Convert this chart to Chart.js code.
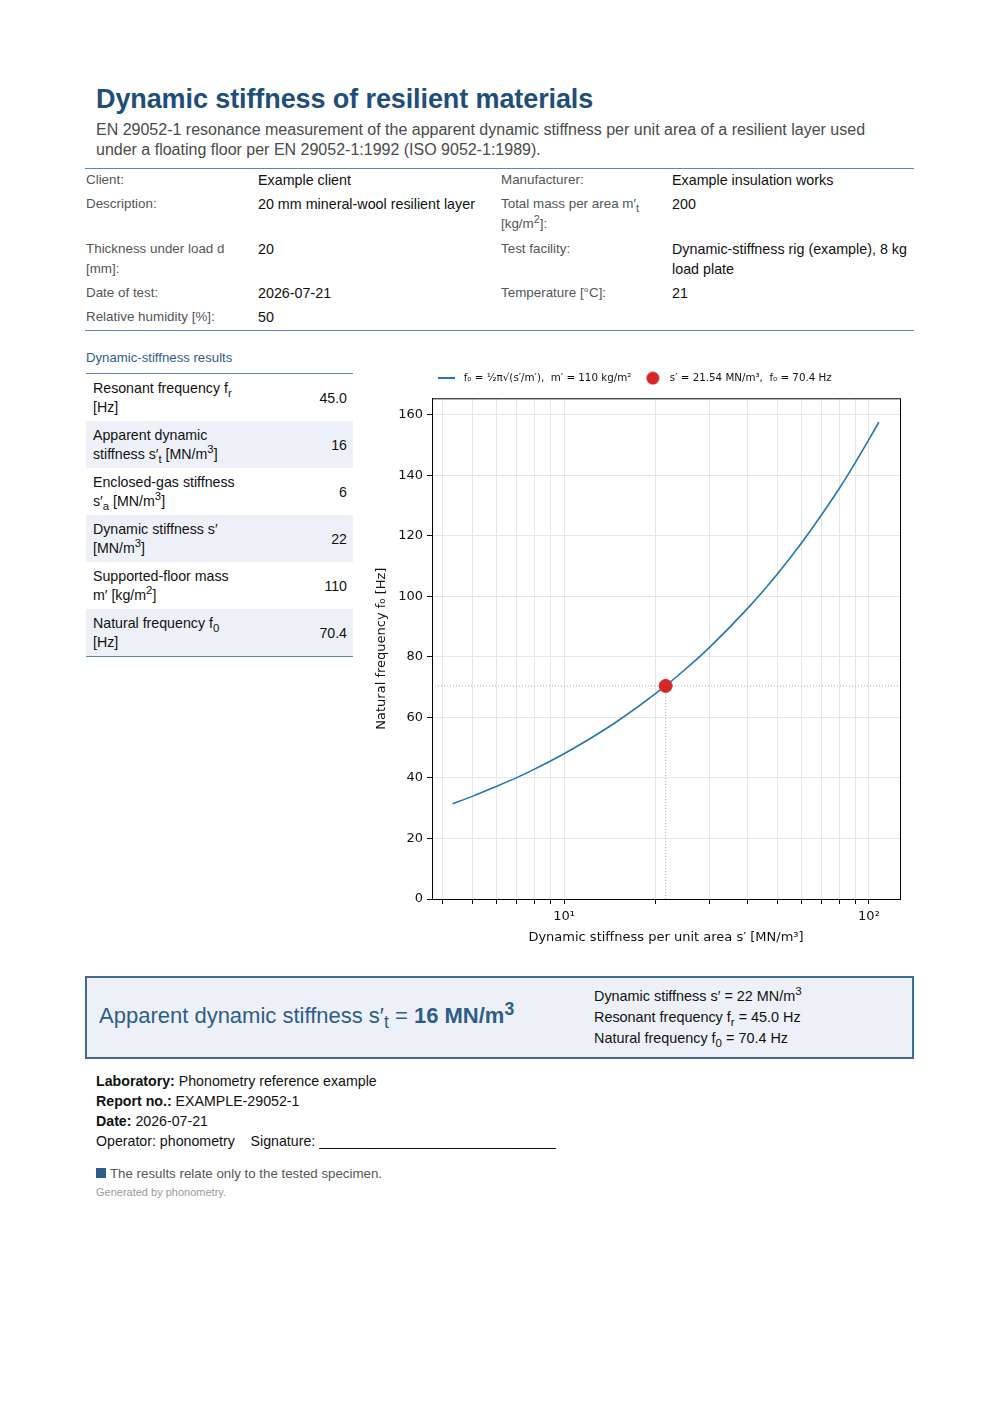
<!DOCTYPE html>
<html>
<head>
<meta charset="utf-8">
<title>Dynamic stiffness of resilient materials</title>
<script src="https://cdn.jsdelivr.net/npm/chart.js@4.4.1/dist/chart.umd.min.js"></script>
<style>
  html, body { margin: 0; padding: 0; background: #fff; }
  body { width: 1000px; height: 1415px; position: relative; font-family: "Liberation Sans", Arial, sans-serif; color: #111; }
  .abs { position: absolute; }
  h1 { position: absolute; left: 96px; top: 83px; margin: 0; font-size: 27px; line-height: 32px; color: #1f4e79; font-weight: bold; letter-spacing: -0.1px; }
  .sub { left: 96px; top: 120px; width: 800px; font-size: 16px; line-height: 20px; color: #4a4a4a; }
  table.info { position: absolute; left: 85px; top: 168px; width: 829px; border-collapse: collapse; table-layout: fixed;
    border-top: 1.5px solid #5f86ad; border-bottom: 1.5px solid #5f86ad; }
  table.info td { vertical-align: top; padding: 1px 0 3px 1px; line-height: 20.2px; }
  table.info td.l { font-size: 13.4px; color: #555; padding-right: 8px; }
  table.info td.v { font-size: 14.3px; color: #111; }
  .sec { left: 86px; top: 350px; font-size: 13.2px; color: #2e5d8a; }
  table.res { position: absolute; left: 86px; top: 373px; width: 267px; border-collapse: collapse; table-layout: fixed;
    border-top: 1.5px solid #5f86ad; border-bottom: 1.5px solid #5f86ad; font-size: 14.2px; }
  table.res td { height: 38px; padding: 5px 6px 4px 7px; line-height: 19px; vertical-align: middle; }
  table.res tr:nth-child(even) td { background: #edf1f7; }
  table.res td.n { text-align: right; }
  #wrap { position: absolute; left: 370px; top: 357px; width: 545px; height: 595px; }
  .box { left: 85px; top: 976px; width: 825px; height: 79px; border: 2px solid #3d6a96; background: #edf1f7; }
  .big { left: 12px; top: 25px; font-size: 22px; color: #2e5d8a; }
  .big b { font-weight: bold; }
  .side { left: 507px; top: 8px; font-size: 14.4px; line-height: 21px; color: #111; }
  .foot { left: 96px; top: 1071px; font-size: 14.2px; line-height: 20px; color: #111; }
  .note { left: 96px; top: 1166px; font-size: 13.3px; color: #555; }
  .note span { display: inline-block; width: 10px; height: 10px; background: #2e5d8a; margin-right: 4px; }
  .gen { left: 96px; top: 1186px; font-size: 11px; color: #999; }
  sub, sup { font-size: 80%; line-height: 0; }
</style>
</head>
<body>
<h1>Dynamic stiffness of resilient materials</h1>
<div class="abs sub">EN 29052-1 resonance measurement of the apparent dynamic stiffness per unit area of a resilient layer used under a floating floor per EN 29052-1:1992 (ISO 9052-1:1989).</div>

<table class="info">
  <colgroup><col style="width:172px"><col style="width:243px"><col style="width:171px"><col style="width:243px"></colgroup>
  <tr><td class="l">Client:</td><td class="v">Example client</td><td class="l">Manufacturer:</td><td class="v">Example insulation works</td></tr>
  <tr><td class="l">Description:</td><td class="v">20 mm mineral-wool resilient layer</td><td class="l">Total mass per area m′<sub>t</sub> [kg/m<sup>2</sup>]:</td><td class="v">200</td></tr>
  <tr><td class="l">Thickness under load d [mm]:</td><td class="v">20</td><td class="l">Test facility:</td><td class="v">Dynamic-stiffness rig (example), 8 kg load plate</td></tr>
  <tr><td class="l">Date of test:</td><td class="v">2026-07-21</td><td class="l">Temperature [°C]:</td><td class="v">21</td></tr>
  <tr><td class="l">Relative humidity [%]:</td><td class="v">50</td><td class="l"></td><td class="v"></td></tr>
</table>

<div class="abs sec">Dynamic-stiffness results</div>
<table class="res">
  <colgroup><col style="width:155px"><col></colgroup>
  <tr><td>Resonant frequency f<sub>r</sub> [Hz]</td><td class="n">45.0</td></tr>
  <tr><td>Apparent dynamic stiffness s′<sub>t</sub> [MN/m<sup>3</sup>]</td><td class="n">16</td></tr>
  <tr><td>Enclosed-gas stiffness s′<sub>a</sub> [MN/m<sup>3</sup>]</td><td class="n">6</td></tr>
  <tr><td>Dynamic stiffness s′ [MN/m<sup>3</sup>]</td><td class="n">22</td></tr>
  <tr><td>Supported-floor mass m′ [kg/m<sup>2</sup>]</td><td class="n">110</td></tr>
  <tr><td>Natural frequency f<sub>0</sub> [Hz]</td><td class="n">70.4</td></tr>
</table>

<div id="wrap"><canvas id="chart"></canvas></div>

<div class="abs box">
  <div class="abs big">Apparent dynamic stiffness s′<sub>t</sub> = <b>16 MN/m<sup>3</sup></b></div>
  <div class="abs side">Dynamic stiffness s′ = 22 MN/m<sup>3</sup><br>Resonant frequency f<sub>r</sub> = 45.0 Hz<br>Natural frequency f<sub>0</sub> = 70.4 Hz</div>
</div>

<div class="abs foot">
  <b>Laboratory:</b> Phonometry reference example<br>
  <b>Report no.:</b> EXAMPLE-29052-1<br>
  <b>Date:</b> 2026-07-21<br>
  Operator: phonometry &nbsp;&nbsp; Signature: ______________________________
</div>
<div class="abs note"><span></span>The results relate only to the tested specimen.</div>
<div class="abs gen">Generated by phonometry.</div>

<script>
// curve f0 vs s', m' = 110 kg/m2
const stiffness = [4.31, 5, 6, 7, 8, 10, 12, 15, 20, 25, 30, 40, 50, 60, 70, 80, 90, 100, 107.7];
const naturalFreq = [31.5, 33.9, 37.2, 40.1, 42.9, 48.0, 52.6, 58.8, 67.9, 75.9, 83.1, 96.0, 107.3, 117.5, 127.0, 135.7, 144.0, 151.8, 157.5];
const pointS = [21.54];
const pointF = [70.4];
const xTicks = [4, 5, 6, 7, 8, 9, 10, 20, 30, 40, 50, 60, 70, 80, 90, 100];
const xTickLabels = { 10: '10¹', 100: '10²' };
const yTicks = [0, 20, 40, 60, 80, 100, 120, 140, 160];

const blue = '#1f77b4';
const red = '#d62728';

// legend swatches
const lineSwatch = document.createElement('canvas');
lineSwatch.width = 17; lineSwatch.height = 2;
lineSwatch.getContext('2d').fillStyle = blue;
lineSwatch.getContext('2d').fillRect(0, 0, 17, 2);

const dotSwatch = document.createElement('canvas');
dotSwatch.width = 14; dotSwatch.height = 14;
(function () {
    const c = dotSwatch.getContext('2d');
    c.fillStyle = red;
    c.beginPath();
    c.arc(7, 7, 6.5, 0, Math.PI * 2);
    c.fill();
})();

// a bit more room under the legend without spreading the items apart
const legendGap = {
    id: 'legendGap',
    beforeLayout(chart) {
        const lg = chart.legend;
        if (lg && !lg._gapPatched) {
            const fit = lg.fit.bind(lg);
            lg.fit = function () { fit(); this.height += 5; };
            lg._gapPatched = true;
        }
    }
};

// frame on all four sides + dotted guides at the operating point
const framePlugin = {
    id: 'frame',
    beforeDatasetsDraw(chart) {
        const { ctx, chartArea: a, scales } = chart;
        const px = scales.x.getPixelForValue(pointS[0]);
        const py = scales.y.getPixelForValue(pointF[0]);
        ctx.save();
        ctx.strokeStyle = '#aaaaaa';
        ctx.lineWidth = 1;
        ctx.setLineDash([1, 2]);
        ctx.beginPath();
        ctx.moveTo(a.left, py); ctx.lineTo(a.right, py);
        ctx.moveTo(px, a.bottom); ctx.lineTo(px, py);
        ctx.stroke();
        ctx.restore();
    },
    afterDraw(chart) {
        const { ctx, chartArea: a } = chart;
        ctx.save();
        ctx.strokeStyle = '#000';
        ctx.lineWidth = 1;
        ctx.strokeRect(a.left + 0.5, a.top + 0.5, a.right - a.left, a.bottom - a.top);
        ctx.restore();
    }
};

const ctx = document.getElementById('chart').getContext('2d');
new Chart(ctx, {
    type: 'scatter',
    data: {
        datasets: [{
            label: ' f₀ = ¹⁄₂π√(s′/m′),  m′ = 110 kg/m²',
            data: stiffness.map((s, i) => ({ x: s, y: naturalFreq[i] })),
            showLine: true,
            borderColor: blue,
            backgroundColor: blue,
            borderWidth: 1.6,
            pointRadius: 0,
            cubicInterpolationMode: 'monotone',
            pointStyle: lineSwatch,
            order: 2
        }, {
            label: ' s′ = 21.54 MN/m³,  f₀ = 70.4 Hz',
            data: pointS.map((s, i) => ({ x: s, y: pointF[i] })),
            borderColor: red,
            backgroundColor: red,
            pointRadius: 6.5,
            pointStyle: 'circle',
            order: 1
        }]
    },
    options: {
        responsive: true,
        maintainAspectRatio: false,
        animation: false,
        layout: { padding: { right: 15, top: 3 } },
        plugins: {
            tooltip: { enabled: false },
            legend: {
                position: 'top',
                labels: {
                    usePointStyle: true,
                    pointStyleWidth: 17,
                    boxHeight: 9,
                    padding: 13,
                    color: '#111',
                    font: { family: 'DejaVu Sans', size: 10.3 },
                    sort: (a, b) => a.datasetIndex - b.datasetIndex,
                    generateLabels: chart => {
                        const items = Chart.defaults.plugins.legend.labels.generateLabels(chart);
                        items.forEach(it => { it.pointStyle = it.datasetIndex === 0 ? lineSwatch : dotSwatch; });
                        return items;
                    }
                }
            }
        },
        scales: {
            x: {
                type: 'logarithmic',
                min: 3.69,
                max: 126.4,
                afterBuildTicks: scale => { scale.ticks = xTicks.map(v => ({ value: v, major: v === 10 || v === 100 })); },
                afterFit: scale => { scale.height = 53; },
                ticks: {
                    autoSkip: false,
                    maxRotation: 0,
                    color: '#111',
                    padding: 5,
                    font: { family: 'DejaVu Sans', size: 13 },
                    callback: v => xTickLabels[v] || ''
                },
                grid: { color: '#e6e6e6', tickColor: '#000', tickLength: 5 },
                border: { color: '#000' },
                title: {
                    display: true,
                    text: 'Dynamic stiffness per unit area s′ [MN/m³]',
                    color: '#111',
                    padding: { top: 0, bottom: 7 },
                    font: { family: 'DejaVu Sans', size: 13 }
                }
            },
            y: {
                min: 0,
                max: 165.4,
                afterBuildTicks: scale => { scale.ticks = yTicks.map(v => ({ value: v })); },
                afterFit: scale => { scale.width = 62; },
                ticks: {
                    color: '#111',
                    padding: 4,
                    font: { family: 'DejaVu Sans', size: 13 }
                },
                grid: { color: '#e6e6e6', tickColor: '#000', tickLength: 5 },
                border: { color: '#000' },
                title: {
                    display: true,
                    text: 'Natural frequency f₀ [Hz]',
                    color: '#111',
                    padding: { bottom: 2 },
                    font: { family: 'DejaVu Sans', size: 13 }
                }
            }
        }
    },
    plugins: [legendGap, framePlugin]
});
</script>
</body>
</html>
